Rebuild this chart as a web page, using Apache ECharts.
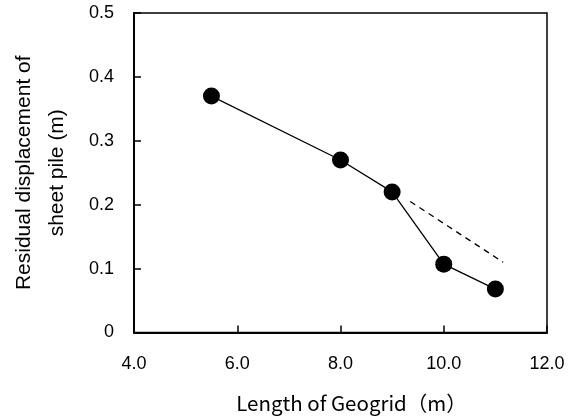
<!DOCTYPE html>
<html>
<head>
<meta charset="utf-8">
<script src="https://cdn.jsdelivr.net/npm/echarts@6/dist/echarts.min.js"></script>
<style>
  html, body { margin: 0; padding: 0; background: #fff; }
  #chart { width: 583px; height: 418px; }
</style>
</head>
<body>
<div id="chart"></div>
<script>
// Geogrid length (m) and residual sheet pile displacement (m)
const geogridLength = [5.5, 8.0, 9.0, 10.0, 11.0];
const residualDisp = [0.37, 0.27, 0.22, 0.107, 0.068];

// Dashed trend continuing the 5.5–9.0 m slope
const trendX = [9.35, 11.15];
const trendY = [0.205, 0.11];

const xTicks = { min: 4, max: 12, step: 2 };
const yTicks = { min: 0, max: 0.5, step: 0.1 };

const sansFont = "'Liberation Sans', Arial, sans-serif";
const tickFont = { fontFamily: sansFont, fontSize: 18, color: '#000' };

const chart = echarts.init(document.getElementById('chart'), null, { renderer: 'canvas' });
chart.setOption({
  animation: false,
  backgroundColor: '#fff',
  grid: {
    left: 127, right: 36, top: 13, bottom: 85,
    show: true, borderColor: '#000', borderWidth: 1.5, backgroundColor: 'transparent'
  },
  xAxis: {
    type: 'value',
    min: xTicks.min, max: xTicks.max, interval: xTicks.step,
    name: 'Length of Geogrid（m）',
    nameLocation: 'middle',
    nameGap: 60,
    nameTextStyle: { fontFamily: "'Noto Sans CJK JP', sans-serif", fontSize: 20.5, color: '#000', padding: [0, 0, 0, 22] },
    axisLine: { show: true, lineStyle: { color: '#000', width: 2 } },
    axisTick: { show: true, inside: true, length: 7, lineStyle: { color: '#000', width: 1.5 } },
    axisLabel: Object.assign({ margin: 23, formatter: v => v.toFixed(1) }, tickFont),
    splitLine: { show: false }
  },
  yAxis: {
    type: 'value',
    min: yTicks.min, max: yTicks.max, interval: yTicks.step,
    name: 'Residual displacement of\nsheet pile (m)',
    nameLocation: 'middle',
    nameRotate: 90,
    nameGap: 60,
    nameTextStyle: { fontFamily: sansFont, fontSize: 21, lineHeight: 33, color: '#000' },
    axisLine: { show: true, lineStyle: { color: '#000', width: 2 } },
    axisTick: { show: true, inside: true, length: 7, lineStyle: { color: '#000', width: 1.5 } },
    axisLabel: Object.assign({ margin: 20, formatter: v => (v === 0 ? '0' : v.toFixed(1)) }, tickFont),
    splitLine: { show: false }
  },
  series: [
    {
      type: 'line',
      data: geogridLength.map((x, i) => [x, residualDisp[i]]),
      symbol: 'circle',
      symbolSize: 17,
      itemStyle: { color: '#000' },
      lineStyle: { color: '#000', width: 1.3 },
      z: 3
    },
    {
      type: 'line',
      data: trendX.map((x, i) => [x, trendY[i]]),
      symbol: 'none',
      lineStyle: { color: '#000', width: 1.3, type: [6, 5] },
      z: 2
    }
  ]
});
</script>
</body>
</html>
